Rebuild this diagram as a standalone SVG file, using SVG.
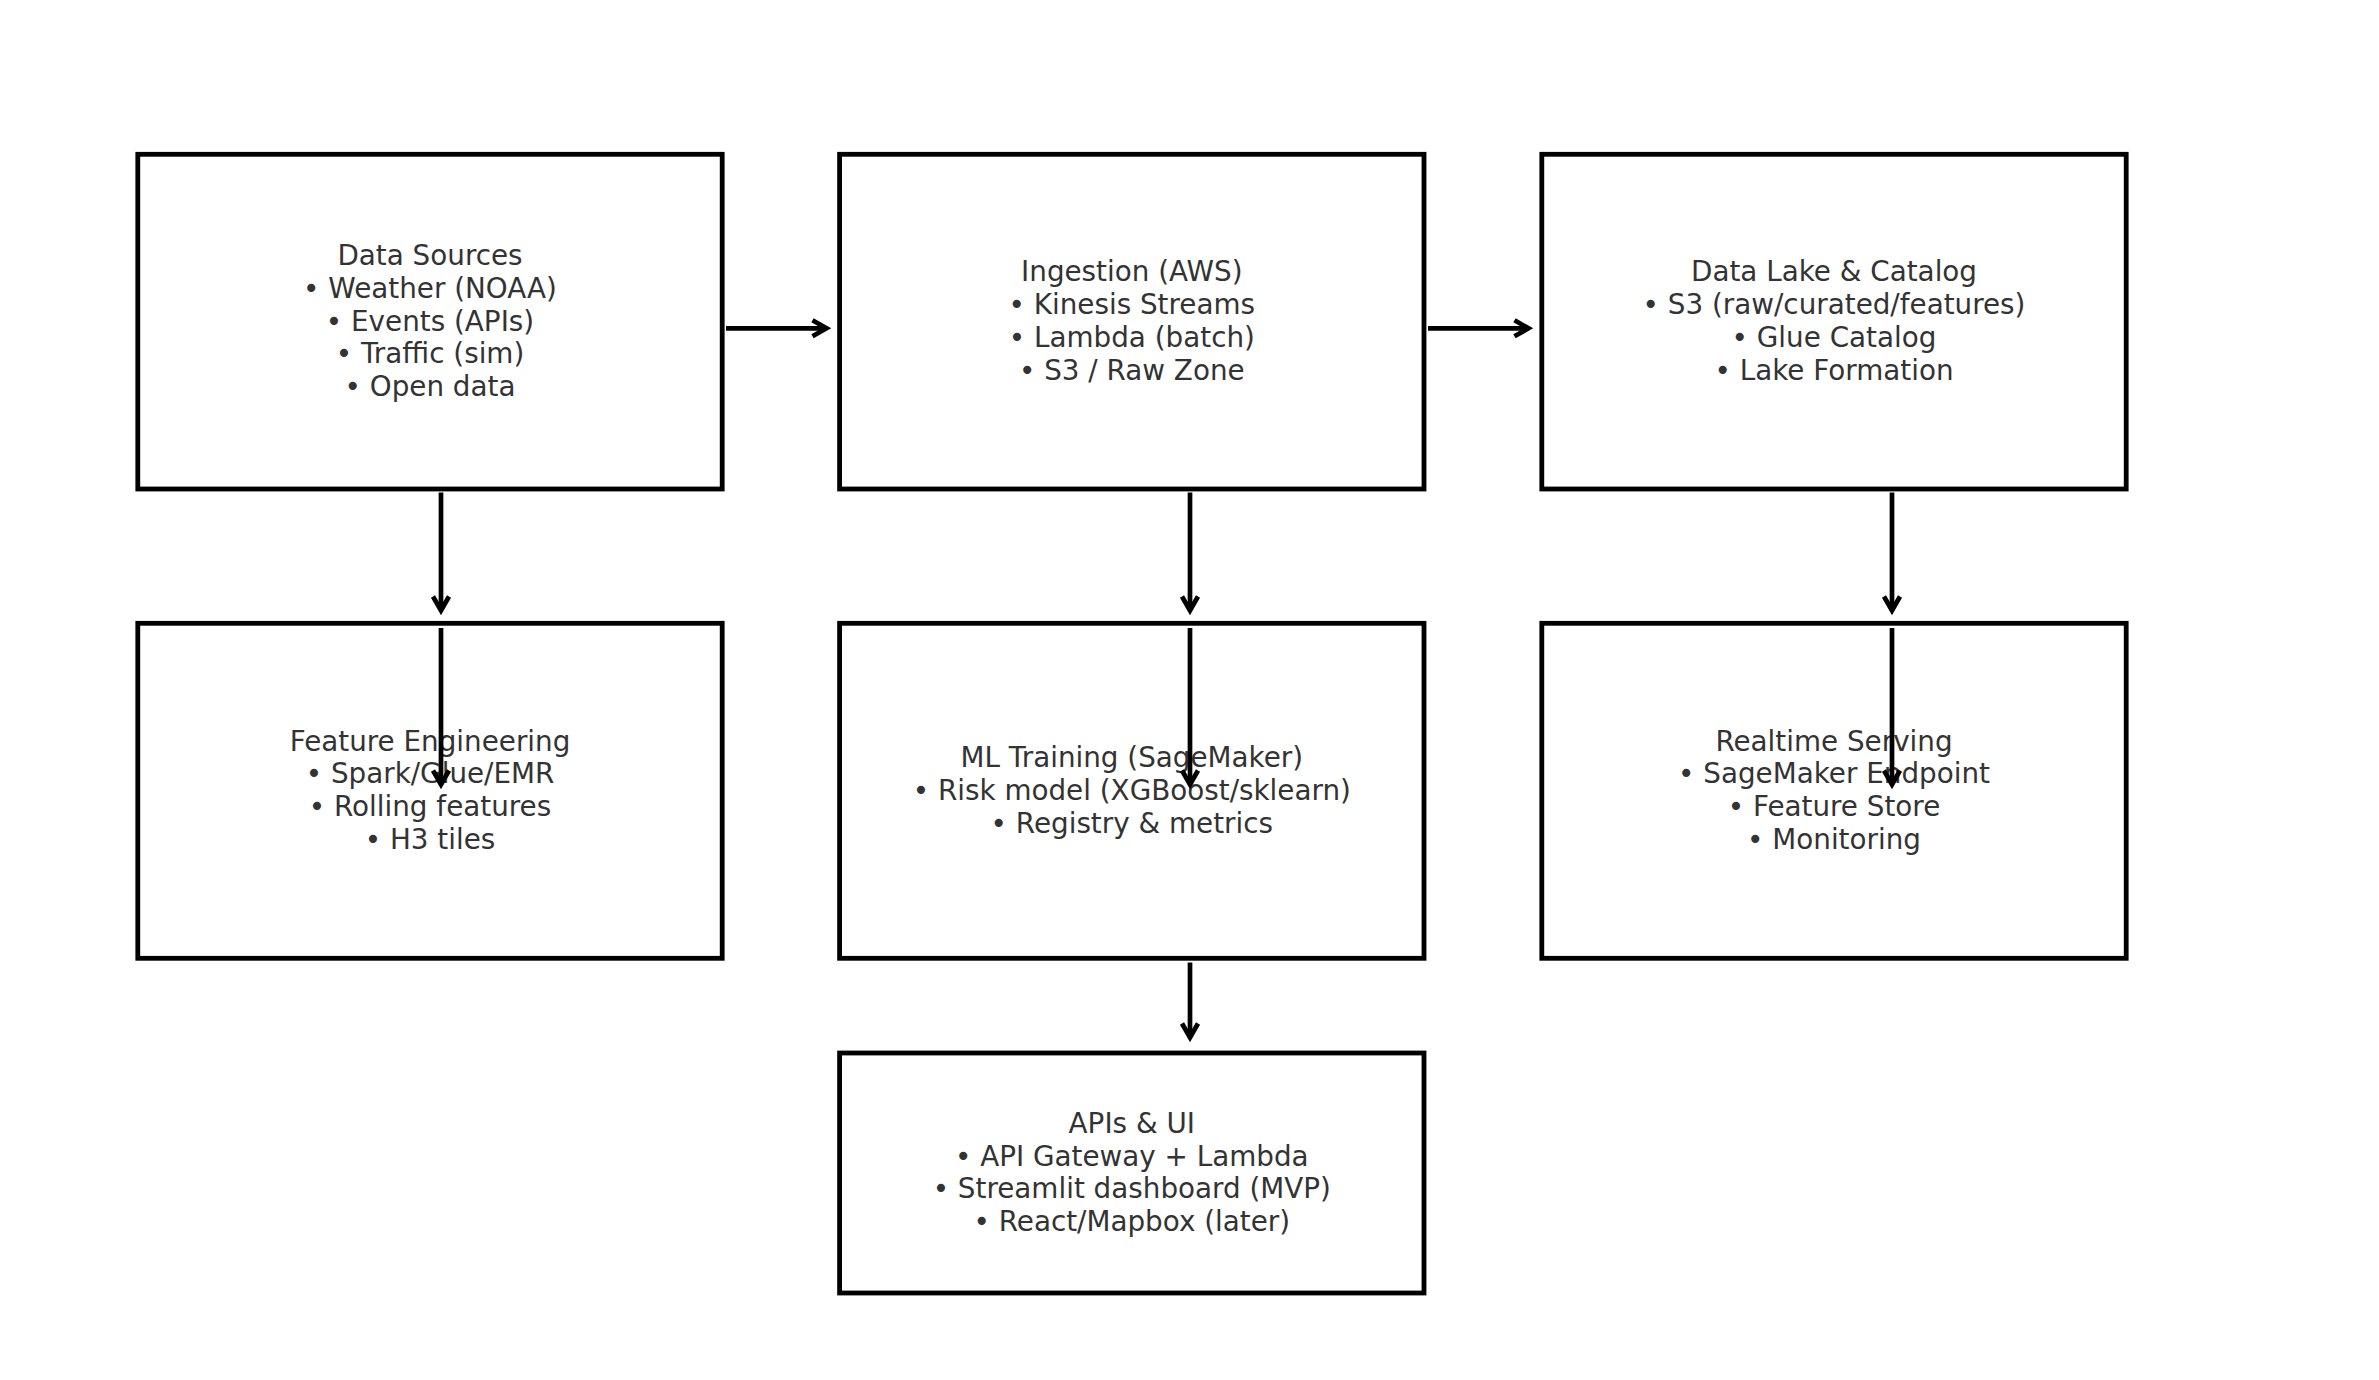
<svg xmlns="http://www.w3.org/2000/svg" width="2379" height="1380" viewBox="0 0 2379 1380">
<style>
.box{fill:#fff;stroke:#000;stroke-width:4.8}
.lbl{font-family:"DejaVu Sans",sans-serif;font-size:27.8px;fill:#333;text-anchor:middle}
.conn{fill:none;stroke:#000;stroke-width:4.7}
</style>
<defs>
<marker id="ah" markerUnits="userSpaceOnUse" orient="auto" markerWidth="40" markerHeight="40" viewBox="-20 -20 40 40" refX="0" refY="0" overflow="visible">
<path d="M-14,-8 L0,0 L-14,8" fill="none" stroke="#000" stroke-width="4.7" stroke-linejoin="miter"/>
</marker>
</defs>
<rect width="2379" height="1380" fill="#fff"/>
<g id="data-sources">
<rect class="box" x="137.8" y="154.3" width="584.4" height="334.7"/>
<text class="lbl"><tspan x="430" y="265">Data Sources</tspan><tspan x="430" y="297.8">• Weather (NOAA)</tspan><tspan x="430" y="330.6">• Events (APIs)</tspan><tspan x="430" y="363.4">• Traffic (sim)</tspan><tspan x="430" y="396.2">• Open data</tspan></text>
</g>
<g id="ingestion">
<rect class="box" x="839.6" y="154.3" width="584.4" height="334.7"/>
<text class="lbl"><tspan x="1131.8" y="281.4">Ingestion (AWS)</tspan><tspan x="1131.8" y="314.2">• Kinesis Streams</tspan><tspan x="1131.8" y="347">• Lambda (batch)</tspan><tspan x="1131.8" y="379.8">• S3 / Raw Zone</tspan></text>
</g>
<g id="data-lake">
<rect class="box" x="1541.8" y="154.3" width="584.4" height="334.7"/>
<text class="lbl"><tspan x="1834" y="281.4">Data Lake &amp; Catalog</tspan><tspan x="1834" y="314.2">• S3 (raw/curated/features)</tspan><tspan x="1834" y="347">• Glue Catalog</tspan><tspan x="1834" y="379.8">• Lake Formation</tspan></text>
</g>
<g id="feature-engineering">
<rect class="box" x="137.8" y="623.3" width="584.4" height="335"/>
<text class="lbl"><tspan x="430" y="750.5">Feature Engineering</tspan><tspan x="430" y="783.3">• Spark/Glue/EMR</tspan><tspan x="430" y="816.1">• Rolling features</tspan><tspan x="430" y="848.9">• H3 tiles</tspan></text>
</g>
<g id="ml-training">
<rect class="box" x="839.6" y="623.3" width="584.4" height="335"/>
<text class="lbl"><tspan x="1131.8" y="766.9">ML Training (SageMaker)</tspan><tspan x="1131.8" y="799.7">• Risk model (XGBoost/sklearn)</tspan><tspan x="1131.8" y="832.5">• Registry &amp; metrics</tspan></text>
</g>
<g id="realtime-serving">
<rect class="box" x="1541.8" y="623.3" width="584.4" height="335"/>
<text class="lbl"><tspan x="1834" y="750.5">Realtime Serving</tspan><tspan x="1834" y="783.3">• SageMaker Endpoint</tspan><tspan x="1834" y="816.1">• Feature Store</tspan><tspan x="1834" y="848.9">• Monitoring</tspan></text>
</g>
<g id="apis-ui">
<rect class="box" x="839.6" y="1053" width="584.4" height="240"/>
<text class="lbl"><tspan x="1131.8" y="1132.7">APIs &amp; UI</tspan><tspan x="1131.8" y="1165.5">• API Gateway + Lambda</tspan><tspan x="1131.8" y="1198.3">• Streamlit dashboard (MVP)</tspan><tspan x="1131.8" y="1231.1">• React/Mapbox (later)</tspan></text>
</g>
<g id="connectors">
<path class="conn" marker-end="url(#ah)" d="M726,328.3 L826.5,328.3"/>
<path class="conn" marker-end="url(#ah)" d="M1428,328.3 L1528.5,328.3"/>
<path class="conn" marker-end="url(#ah)" d="M441,492.5 L441,610.5"/>
<path class="conn" marker-end="url(#ah)" d="M1190,492.5 L1190,610.5"/>
<path class="conn" marker-end="url(#ah)" d="M1892,492.5 L1892,610.5"/>
<path class="conn" marker-end="url(#ah)" d="M441,628 L441,784.5"/>
<path class="conn" marker-end="url(#ah)" d="M1190,628 L1190,784.5"/>
<path class="conn" marker-end="url(#ah)" d="M1892,628 L1892,784.5"/>
<path class="conn" marker-end="url(#ah)" d="M1190,962.5 L1190,1037.5"/>
</g>
</svg>
